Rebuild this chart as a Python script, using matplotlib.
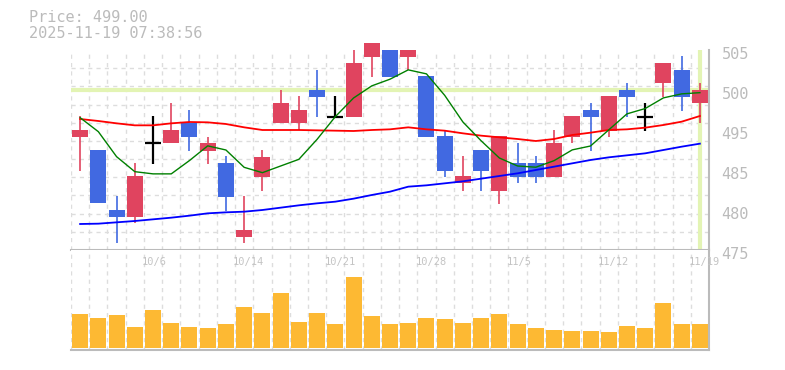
import matplotlib
matplotlib.use("Agg")
import matplotlib.pyplot as plt
import matplotlib.transforms as mtransforms
import numpy as np

# datos (precio diario + medias moviles + volumen)
fechas = ["9/30", "10/1", "10/2", "10/3", "10/6", "10/7", "10/8", "10/9", "10/10",
          "10/14", "10/15", "10/16", "10/17", "10/20", "10/21", "10/22", "10/23",
          "10/24", "10/27", "10/28", "10/29", "10/30", "10/31", "11/4", "11/5",
          "11/6", "11/7", "11/10", "11/11", "11/12", "11/13", "11/14", "11/17",
          "11/18", "11/19"]

apertura = [492.0, 490.0, 481.0, 480.0, 491.0, 491.0, 494.0, 489.9, 488.0, 477.0,
            486.0, 494.0, 494.0, 499.0, 495.0, 495.0, 504.0, 505.0, 504.0, 501.1,
            492.1, 485.0, 490.0, 483.9, 488.0, 488.0, 486.0, 492.0, 496.0, 492.9,
            499.0, 495.0, 500.0, 502.0, 497.0]
maximo = [495.1, 490.0, 483.1, 488.0, 495.1, 497.0, 496.0, 492.0, 489.1, 483.1,
          490.0, 499.0, 498.1, 502.0, 498.1, 505.0, 506.1, 505.0, 505.0, 501.1,
          493.0, 489.1, 490.0, 492.1, 491.0, 489.1, 493.0, 495.1, 497.0, 498.1,
          500.0, 497.0, 503.0, 504.1, 500.0]
minimo = [486.9, 482.0, 476.0, 479.0, 487.9, 491.0, 489.9, 487.9, 480.9, 476.0,
          483.9, 494.0, 493.0, 495.0, 495.0, 495.0, 501.0, 501.0, 502.0, 492.0,
          486.0, 483.9, 483.9, 481.9, 485.0, 485.0, 486.0, 491.0, 489.9, 492.0,
          495.0, 492.9, 498.0, 495.9, 494.0]
cierre = [493.0, 482.0, 480.0, 486.1, 491.0, 493.0, 492.0, 491.0, 483.0, 478.0,
          489.0, 497.0, 496.0, 498.0, 495.0, 503.0, 506.1, 501.0, 505.0, 492.0,
          486.9, 486.1, 486.9, 492.1, 486.0, 486.0, 491.0, 495.1, 495.0, 498.1,
          498.0, 495.0, 503.0, 498.0, 499.0]

ma5 = [494.85, 492.75, 489.0, 486.75, 486.42, 486.42, 488.42, 490.62, 490.0, 487.4,
       486.6, 487.6, 488.6, 491.6, 495.0, 497.8, 499.62, 500.62, 502.02, 501.42,
       498.2, 494.2, 491.38, 488.8, 487.6, 487.42, 488.4, 490.02, 490.6, 493.02,
       495.42, 496.22, 497.82, 498.42, 498.6]
ma25 = [494.65, 494.35, 494.0, 493.7, 493.7, 494.0, 494.2, 494.15, 493.9, 493.4,
        493.0, 493.0, 493.0, 492.95, 492.9, 492.85, 493.0, 493.1, 493.4, 493.1,
        492.9, 492.5, 492.15, 491.9, 491.65, 491.35, 491.65, 492.25, 492.6, 493.0,
        493.1, 493.35, 493.75, 494.25, 495.1]
ma75 = [478.9, 478.95, 479.15, 479.35, 479.6, 479.85, 480.15, 480.5, 480.65, 480.75,
        481.0, 481.35, 481.7, 482.0, 482.25, 482.7, 483.25, 483.75, 484.5, 484.7,
        485.0, 485.3, 485.7, 486.1, 486.5, 487.0, 487.5, 488.0, 488.5, 488.9,
        489.2, 489.5, 490.0, 490.5, 490.95]

volumen = [33.7, 29.7, 32.7, 20.7, 37.7, 24.7, 20.7, 19.7, 23.7, 40.7, 34.7, 54.7,
           25.7, 34.7, 23.7, 70.7, 31.7, 23.7, 24.7, 29.7, 28.7, 24.7, 29.7, 33.7,
           23.7, 19.7, 17.7, 16.7, 16.7, 15.7, 21.7, 19.7, 44.7, 23.7, 23.7]

precio_actual = 499.0
marca_tiempo = "2025-11-19 07:38:56"
ticks_precio = [505, 499, 493, 487, 481, 475]
etiquetas_precio = ["505", "500", "495", "485", "480", "475"]

ROJO = "#e0445f"
AZUL = "#4169e1"
GRIS = "#bbbbbb"
REJILLA = "#dddddd"
RESALTE = "#e3f4b4"
MONO = "DejaVu Sans Mono"

W, H = 785, 370
fig = plt.figure(figsize=(W / 100, H / 100), dpi=100)
ax = fig.add_axes([71 / W, (H - 250) / H, 638 / W, 200 / H])
axv = fig.add_axes([71 / W, (H - 350) / H, 638 / W, 100 / H])

x = np.arange(len(fechas))
o = np.array(apertura)
c = np.array(cierre)
ancho = 0.877

colores = []
for a, b in zip(o, c):
    if b > a:
        colores.append(ROJO)
    elif b < a:
        colores.append(AZUL)
    else:
        colores.append("black")

# rejilla
for eje in (ax, axv):
    eje.set_xlim(-0.5, len(fechas) - 0.5)
    eje.set_xticks(np.arange(-0.5, len(fechas) - 1, 1))
    eje.grid(axis="x", color=REJILLA, lw=1, ls=(0, (3, 3)))
    eje.set_axisbelow(True)
    eje.tick_params(axis="x", length=0, labelbottom=False)
    for s in ("top", "left"):
        eje.spines[s].set_visible(False)
    for s in ("right", "bottom"):
        eje.spines[s].set_color(GRIS)
        eje.spines[s].set_linewidth(1.5)

ax.set_ylim(475, 505)
ax.set_yticks(np.linspace(475, 505, 12), minor=True)
ax.grid(axis="y", which="minor", color=REJILLA, lw=1, ls=(0, (3, 3)))
ax.set_yticks(ticks_precio)
ax.set_yticklabels(etiquetas_precio, family=MONO)
ax.yaxis.tick_right()
ax.tick_params(axis="y", which="both", length=0, pad=9, labelsize=11,
               labelcolor=GRIS)
bajar = mtransforms.ScaledTranslation(0, -3 / 100, fig.dpi_scale_trans)
for et in ax.get_yticklabels():
    et.set_transform(et.get_transform() + bajar)

ax.axhline(precio_actual, color=RESALTE, lw=3, zorder=1)
ax.axvline(x[-1], color=RESALTE, lw=3, zorder=1)

# velas
no_doji = [i for i in x if colores[i] != "black"]
doji = [i for i in x if colores[i] == "black"]
mechas = ax.vlines([x[i] for i in no_doji], [minimo[i] for i in no_doji],
                   [maximo[i] for i in no_doji], colors=[colores[i] for i in no_doji],
                   lw=1.2, zorder=2)
mechas.set_clip_on(False)
barras = ax.bar([x[i] for i in no_doji], [abs(c[i] - o[i]) for i in no_doji],
                bottom=[min(c[i], o[i]) for i in no_doji], width=ancho,
                color=[colores[i] for i in no_doji], zorder=2.5)
for b in barras:
    b.set_clip_on(False)
ax.vlines([x[i] for i in doji], [minimo[i] for i in doji], [maximo[i] for i in doji],
          colors="black", lw=1.6, zorder=2.5)
ax.hlines([c[i] for i in doji], [x[i] - ancho / 2 for i in doji],
          [x[i] + ancho / 2 for i in doji], colors="black", lw=1.6, zorder=2.5)

# medias moviles
ax.plot(x, ma25, color="#ff0000", lw=1.3, zorder=3)
ax.plot(x, ma75, color="#0000ff", lw=1.3, zorder=3)
ax.plot(x, ma5, color="#008000", lw=1.0, zorder=3)

# volumen
axv.bar(x, volumen, width=ancho, color="#fdb933", zorder=2)
axv.set_ylim(-2.3, 97.7)
axv.set_yticks([])

# fechas cada 5 sesiones desde la ultima
trans = mtransforms.blended_transform_factory(axv.transData, axv.transAxes)
desplaza = mtransforms.ScaledTranslation(-11 / 100, 0, fig.dpi_scale_trans)
for i in range(len(fechas) - 1, -1, -5):
    axv.text(x[i], 0.875, fechas[i], transform=trans + desplaza, ha="left",
             va="center", family=MONO, fontsize=7.5, color="#c4c4c4")

fig.text(29 / W, 1 - 18 / H, "Price: %.2f" % precio_actual, family=MONO,
         fontsize=11, color=GRIS, va="center", ha="left")
fig.text(29 / W, 1 - 33 / H, marca_tiempo, family=MONO, fontsize=11,
         color=GRIS, va="center", ha="left")

fig.savefig("out.png", dpi=100)
